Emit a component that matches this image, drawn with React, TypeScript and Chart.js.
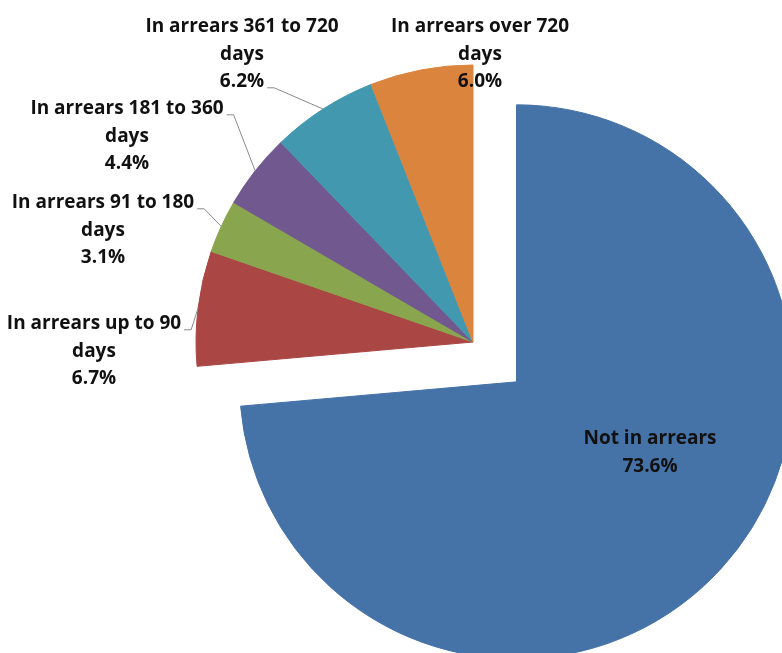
import React, { useEffect, useRef } from 'react';
import { Chart, registerables } from 'chart.js';

Chart.register(...registerables);

// ---- data ----
const categories = [
  'Not in arrears',
  'In arrears up to 90 days',
  'In arrears 91 to 180 days',
  'In arrears 181 to 360 days',
  'In arrears 361 to 720 days',
  'In arrears over 720 days',
];
const shares = [73.6, 6.7, 3.1, 4.4, 6.2, 6.0];
const labelLines = [
  ['Not in arrears'],
  ['In arrears up to 90', 'days'],
  ['In arrears 91 to 180', 'days'],
  ['In arrears 181 to 360', 'days'],
  ['In arrears 361 to 720', 'days'],
  ['In arrears over 720', 'days'],
];

// ---- style / layout ----
const sliceColors = ['#4572A7', '#AA4643', '#89A54E', '#71588F', '#4198AF', '#DB843D'];
const explodeDistances = [59, 0, 0, 0, 0, 0];
// label block centre relative to the pie centre; leader = text line carrying the leader line (-1: none)
const labelLayout = [
  { dx: 177, dy: 109, leader: -1 },
  { dx: -379, dy: 8, leader: 0 },
  { dx: -370, dy: -113, leader: 0 },
  { dx: -346, dy: -207, leader: 0 },
  { dx: -231, dy: -289, leader: 2 },
  { dx: 7, dy: -289, leader: -1 },
];
const W = 782;
const H = 653;
const FONT_SIZE = 19;
const CAP_H = 13.6;
const LINE_H = 27.5;

const explodePlugin = {
  id: 'explode',
  beforeDatasetDraw(chart: any, args: any, opts: any) {
    const meta = args.meta;
    const { left, right, top, bottom } = chart.chartArea;
    const cx = (left + right) / 2;
    const cy = (top + bottom) / 2;
    const dists = (opts && opts.distances) || [];
    meta.data.forEach((el: any, i: number) => {
      const d = dists[i] || 0;
      const mid = (el.startAngle + el.endAngle) / 2;
      el.x = cx + Math.cos(mid) * d;
      el.y = cy + Math.sin(mid) * d;
    });
  },
};

const labelPlugin = {
  id: 'sliceLabels',
  afterDatasetsDraw(chart: any) {
    const ctx = chart.ctx as CanvasRenderingContext2D;
    const meta = chart.getDatasetMeta(0);
    const { left, right, top, bottom } = chart.chartArea;
    const cx = (left + right) / 2;
    const cy = (top + bottom) / 2;
    const values = chart.data.datasets[0].data as number[];
    ctx.save();
    ctx.font = `bold ${FONT_SIZE}px "Open Sans"`;
    ctx.textAlign = 'center';
    ctx.textBaseline = 'alphabetic';
    meta.data.forEach((el: any, i: number) => {
      const lines = [...labelLines[i], values[i].toFixed(1) + '%'];
      const lay = labelLayout[i];
      const n = lines.length;
      const bx = cx + lay.dx;
      const by = cy + lay.dy;
      ctx.fillStyle = '#111111';
      lines.forEach((t, k) => {
        const capMid = by + (k - (n - 1) / 2) * LINE_H;
        ctx.fillText(t, bx, capMid + CAP_H / 2);
      });
      if (lay.leader >= 0) {
        const k = lay.leader;
        const w = ctx.measureText(lines[k]).width;
        const capMid = by + (k - (n - 1) / 2) * LINE_H;
        const sx = bx + w / 2 + 3;
        const sy = capMid + CAP_H / 2 + 0.5;
        const mid = (el.startAngle + el.endAngle) / 2;
        const ex = el.x + Math.cos(mid) * el.outerRadius;
        const ey = el.y + Math.sin(mid) * el.outerRadius;
        ctx.beginPath();
        ctx.moveTo(sx, sy);
        ctx.lineTo(sx + 7, sy);
        ctx.lineTo(ex, ey);
        ctx.strokeStyle = '#8a8a8a';
        ctx.lineWidth = 1;
        ctx.stroke();
      }
    });
    ctx.restore();
  },
};

export default function App() {
  const ref = useRef<HTMLCanvasElement | null>(null);
  useEffect(() => {
    if (!ref.current) return;
    const chart = new Chart(ref.current, {
      type: 'pie',
      data: {
        labels: categories,
        datasets: [
          {
            data: shares,
            backgroundColor: sliceColors,
            borderColor: sliceColors,
            borderWidth: 1,
            hoverOffset: 0,
            radius: 277,
          } as any,
        ],
      },
      options: {
        responsive: false,
        animation: false,
        devicePixelRatio: 1,
        events: [],
        layout: { padding: { left: 164, right: 0, top: 31, bottom: 0 } },
        plugins: {
          legend: { display: false },
          tooltip: { enabled: false },
          explode: { distances: explodeDistances },
        } as any,
      },
      plugins: [explodePlugin, labelPlugin],
    });
    return () => chart.destroy();
  }, []);
  return (
    <div style={{ position: 'absolute', left: 0, top: 0, width: W, height: H, background: '#fff', overflow: 'hidden' }}>
      <canvas ref={ref} width={W} height={H} style={{ width: W, height: H, display: 'block' }} />
    </div>
  );
}
